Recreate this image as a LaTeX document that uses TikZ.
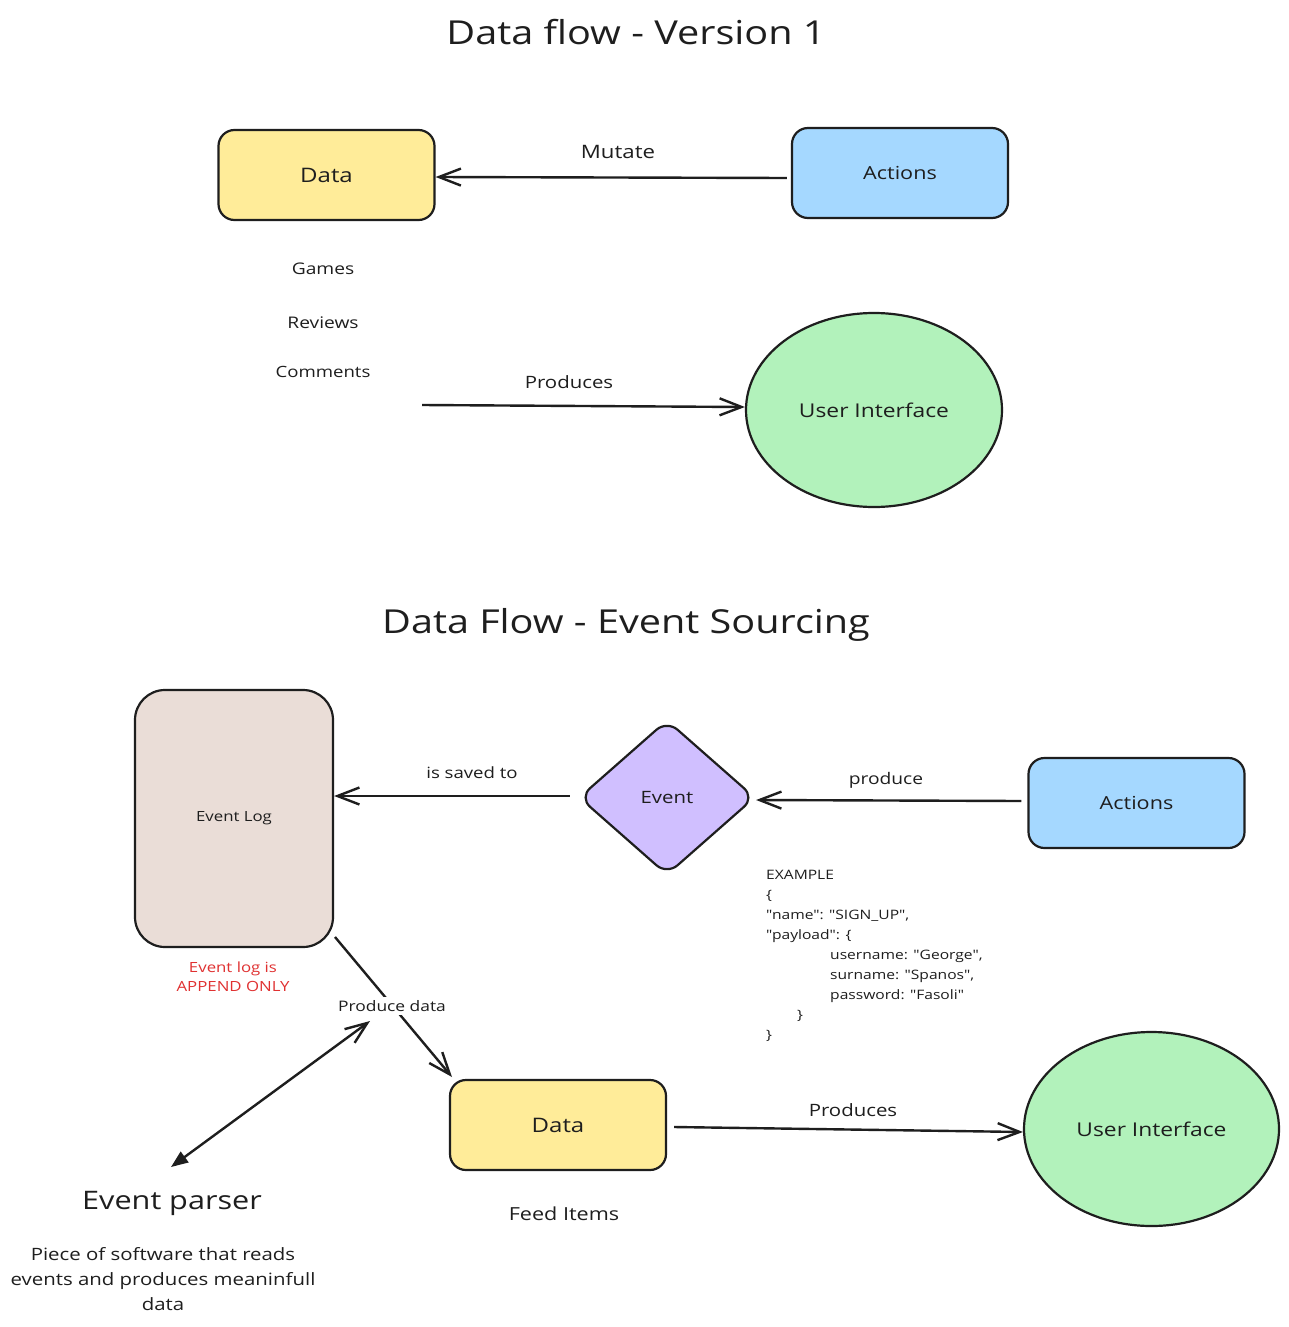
\documentclass[tikz,border=0pt]{standalone}
\usepackage{fontspec}
\setmainfont[FakeStretch=1.2]{Open Sans}
\newfontfamily\exfont[FakeStretch=1.2, Ligatures=TeXOff]{Open Sans}
\usetikzlibrary{arrows.meta,shapes.geometric}
\definecolor{ink}{HTML}{1E1E1E}
\definecolor{yel}{HTML}{FFEC99}
\definecolor{blu}{HTML}{A5D8FF}
\definecolor{grn}{HTML}{B2F2BB}
\definecolor{vio}{HTML}{D0BFFF}
\definecolor{logc}{HTML}{EADDD7}
\definecolor{redt}{HTML}{E03131}
\newcommand{\fs}[1]{\fontsize{#1}{#1}\selectfont}
\newcommand{\fsl}[2]{\fontsize{#1}{#2}\selectfont}
\tikzset{
  box/.style={draw=ink, line width=2.2pt, rounded corners=16pt, minimum width=216pt, minimum height=90pt, inner sep=0pt, font=\fs{18}, text=ink},
  blob/.style={draw=ink, line width=2.2pt, ellipse, inner sep=0pt, font=\fs{19}, text=ink},
  barb/.tip={Straight Barb[length=22pt,width=17pt,line width=2.4pt]},
  conn/.style={draw=ink, line width=2.4pt, -barb},
  lab/.style={text=ink, inner sep=0pt, font=\fs{17}},
  small/.style={text=ink, inner sep=0pt, font=\fs{14}},
  title/.style={text=ink, inner sep=0pt, font=\fs{33}},
}
\begin{document}
\begin{tikzpicture}[x=1pt,y=-1pt]
\useasboundingbox[fill=white] (0,0) rectangle (1289,1327);
% ---- Version 1
\node[title] (t1) at (636,32) {Data flow - Version 1};
\node[box, fill=yel, font=\fs{20}] (data1) at (326.5,175) {Data};
\node[box, fill=blu] (act1) at (900,173) {Actions};
\draw[conn] (act1.west |- 0,178) ++(-4,0) -- (data1.east |- 0,177);
\node[lab, font=\fs{18.5}] (mut) at (618,152) {Mutate};
\node[lab, font=\fs{16}] (games) at (323,269) {Games};
\node[lab, font=\fs{16}] (reviews) at (323,323) {Reviews};
\node[lab, font=\fs{15.5}] (comments) at (323,372) {Comments};
\node[blob, fill=grn, minimum width=256pt, minimum height=194pt] (ui1) at (874,410) {User Interface};
\coordinate (p1) at (422,405);
\draw[conn] (p1) -- (ui1.west |- 0,407);
\node[lab] (prod1) at (569,382) {Produces};
% ---- Event sourcing
\node[title] (t2) at (626,625) {Data Flow - Event Sourcing};
\node[box, fill=logc, minimum width=198pt, minimum height=257pt, rounded corners=30pt, font=\fs{14}] (log) at (234,818.5) {Event Log};
\node[small, text=redt, align=center, font=\fsl{14}{19}] (append) at (233,977) {Event log is\\APPEND ONLY};
\node[draw=ink, line width=2.2pt, diamond, fill=vio, rounded corners=14pt, minimum width=176pt, minimum height=155pt, inner sep=0pt, aspect=1.14, font=\fs{17}, text=ink] (ev) at (667,797.5) {Event};
\node[box, fill=blu] (act2) at (1136.5,803) {Actions};
\draw[conn] (act2.west |- 0,801) ++(-6,0) -- (ev.east |- 0,800);
\node[small, font=\fs{16}] (prodl) at (886,780) {produce};
\draw[conn] (ev.west |- 0,796) ++(-8,0) -- (log.east |- 0,796);
\node[small, font=\fs{15.5}] (saved) at (472,773) {is saved to};
\node[small, anchor=north west, align=left, font=\exfont\fsl{13}{20}] (ex) at (766,870) {EXAMPLE\\\{\\"name": "SIGN\_UP",\\"payload": \{\\\hspace*{64pt}username: "George",\\\hspace*{64pt}surname: "Spanos",\\\hspace*{64pt}password: "Fasoli"\\\hspace*{31pt}\}\\\}};
\node[box, fill=yel, font=\fs{20}] (data2) at (558,1125) {Data};
\node[lab, font=\fs{18}] (feed) at (564,1214) {Feed Items};
\node[blob, fill=grn, minimum width=255pt, minimum height=194pt] (ui2) at (1151.5,1129) {User Interface};
\draw[conn] (data2.east |- 0,1127) ++(7,0) -- (ui2.west |- 0,1132);
\node[lab] (prod2) at (853,1110) {Produces};
\coordinate (logc) at (335,937);
\coordinate (d2c) at (452,1077);
\draw[conn] (logc) -- (d2c);
\node[small, fill=white, inner sep=3pt, font=\fs{14.5}] (pdata) at (392,1006) {Produce data};
\coordinate (pa) at (370,1021);
\coordinate (pb) at (171,1167);
\draw[draw=ink, line width=2.4pt, {Triangle[length=17pt,width=13pt]}-barb] (pb) -- (pa);
\node[text=ink, inner sep=0pt, font=\fs{25.5}] (parser) at (172,1203) {Event parser};
\node[text=ink, inner sep=0pt, align=center, font=\fsl{17}{25}] (pdesc) at (163,1279) {Piece of software that reads\\events and produces meaninfull\\data};
\end{tikzpicture}
\end{document}
